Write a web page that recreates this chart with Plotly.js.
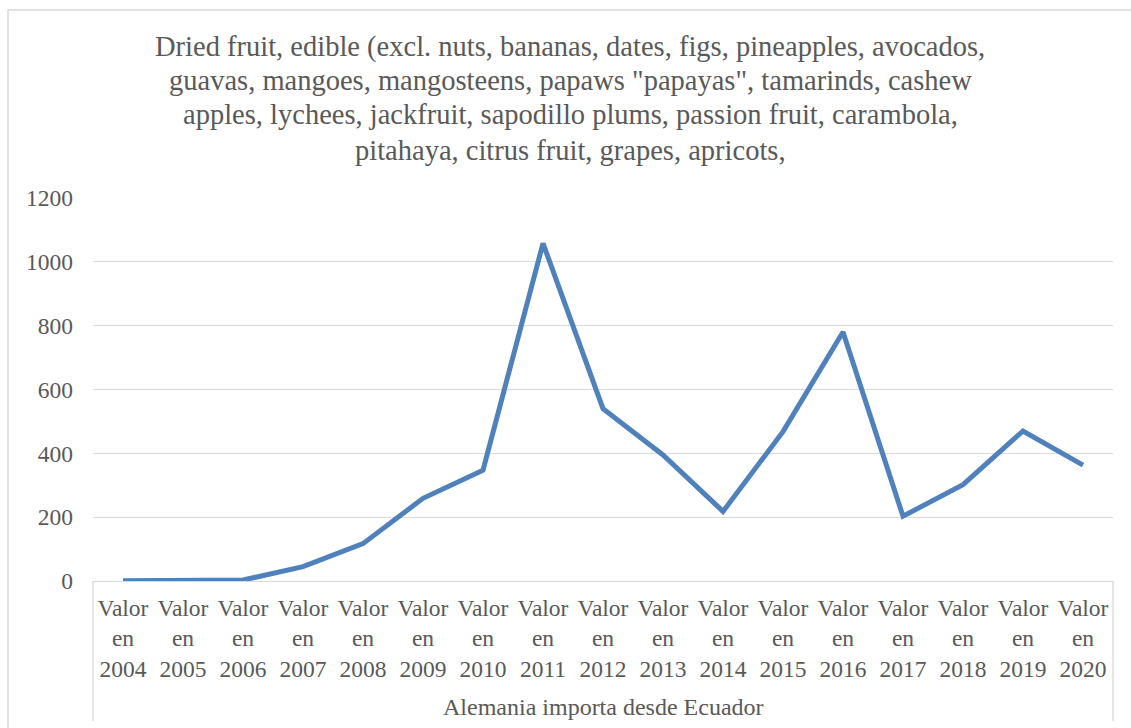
<!DOCTYPE html>
<html>
<head>
<meta charset="utf-8">
<script src="https://cdn.plot.ly/plotly-3.0.1.min.js"></script>
<style>html,body{margin:0;padding:0;background:#fff;}#chart{width:1131px;height:728px;}</style>
</head>
<body>
<div id="chart"></div>
<script>
const years = ["2004","2005","2006","2007","2008","2009","2010","2011","2012","2013","2014","2015","2016","2017","2018","2019","2020"];
const categories = years.map(y => "Valor<br>en<br>" + y);
const values = [0.4, 0.8, 3, 45, 117, 259, 347, 1058, 540, 395, 218, 468, 780, 203, 302, 470, 363];
const titleLines = [
  "Dried fruit, edible (excl. nuts, bananas, dates, figs, pineapples, avocados,",
  "guavas, mangoes, mangosteens, papaws \"papayas\", tamarinds, cashew",
  "apples, lychees, jackfruit, sapodillo plums, passion fruit, carambola,",
  "pitahaya, citrus fruit, grapes, apricots,"
];
const yTicks = [0, 200, 400, 600, 800, 1000, 1200];
const xAxisTitle = "Alemania importa desde Ecuador";

const FONT = "'Liberation Serif', 'Times New Roman', serif";
const TXT = "#595959";
const GRID = "#d9d9d9";
const W = 1131, H = 728;
const L = 93, R = 1113, T = 198, B = 581;
const pw = R - L, ph = B - T;
const px2x = px => (px - L) / pw;
const py2y = py => 1 - (py - T) / ph;

const lineCenters = [47, 81, 115, 150];
const annotations = titleLines.map((t, i) => ({
  text: t, xref: "paper", yref: "paper",
  x: px2x(570), y: py2y(lineCenters[i]),
  xanchor: "center", yanchor: "middle", showarrow: false,
  font: {family: FONT, size: 28.5, color: TXT}
}));
annotations.push({
  text: xAxisTitle, xref: "paper", yref: "paper",
  x: px2x(603), y: py2y(707), xanchor: "center", yanchor: "middle", showarrow: false,
  font: {family: FONT, size: 24, color: TXT}
});

const shapes = [
  {type: "rect", xref: "paper", yref: "paper", x0: px2x(8), x1: px2x(1140), y0: py2y(10), y1: py2y(760),
   line: {color: GRID, width: 1.5}},
  {type: "line", xref: "paper", yref: "paper", x0: 0, x1: 0, y0: 0, y1: py2y(721), line: {color: GRID, width: 1.3}},
  {type: "line", xref: "paper", yref: "paper", x0: 1, x1: 1, y0: 0, y1: py2y(721), line: {color: GRID, width: 1.3}}
];

const trace = {
  x: categories, y: values, type: "scatter", mode: "lines",
  line: {color: "#4F81BD", width: 5}, hoverinfo: "skip"
};

const layout = {
  width: W, height: H,
  margin: {l: L, r: W - R, t: T, b: H - B, pad: 0},
  paper_bgcolor: "#fff", plot_bgcolor: "#fff",
  showlegend: false,
  font: {family: FONT, color: TXT, size: 23},
  xaxis: {
    type: "category", range: [-0.5, categories.length - 0.5],
    showgrid: false, showline: true, linecolor: GRID, linewidth: 1.3,
    ticks: "", ticklabelstandoff: 5, tickfont: {family: FONT, size: 23.5, color: TXT},
    zeroline: false, fixedrange: true
  },
  yaxis: {
    range: [0, 1200], tickvals: yTicks, ticktext: yTicks.map(String),
    showgrid: true, gridcolor: GRID, gridwidth: 1.3,
    showline: false, zeroline: false, ticks: "",
    ticklabelstandoff: 19,
    tickfont: {family: FONT, size: 23.5, color: TXT}, fixedrange: true
  },
  annotations: annotations,
  shapes: shapes
};

Plotly.newPlot("chart", [trace], layout, {displayModeBar: false, staticPlot: true});
</script>
</body>
</html>
